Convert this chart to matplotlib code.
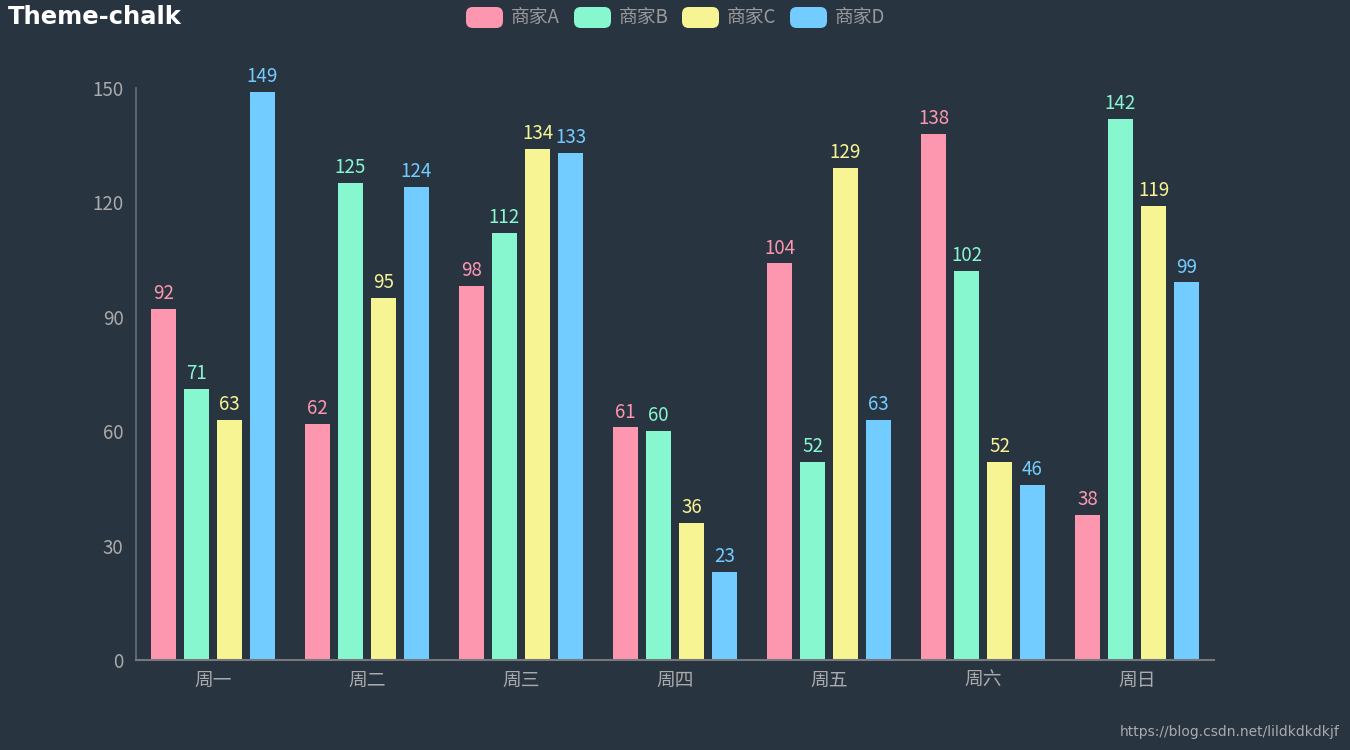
import matplotlib
matplotlib.use("Agg")
import matplotlib.pyplot as plt
from matplotlib.patches import FancyBboxPatch
import numpy as np

plt.rcParams['font.family'] = ['Noto Sans CJK SC', 'DejaVu Sans']

categories = ['周一', '周二', '周三', '周四', '周五', '周六', '周日']
series_names = ['商家A', '商家B', '商家C', '商家D']
vals_a = [92, 62, 98, 61, 104, 138, 38]
vals_b = [71, 125, 112, 60, 52, 102, 142]
vals_c = [63, 95, 134, 36, 129, 52, 119]
vals_d = [149, 124, 133, 23, 63, 46, 99]
series = [vals_a, vals_b, vals_c, vals_d]
colors = ['#fc97af', '#87f7cf', '#f7f494', '#72ccff']
yticks = [0, 30, 60, 90, 120, 150]

bg = '#293441'
fig = plt.figure(figsize=(13.5, 7.5), dpi=100, facecolor=bg)
ax = fig.add_axes([136/1350, 90/750, 1078/1350, 572/750])
ax.set_facecolor(bg)

x = np.arange(len(categories))
bw = 25/154
step = 33/154
for i, (vals, c) in enumerate(zip(series, colors)):
    pos = x + (i - 1.5) * step
    ax.bar(pos, vals, width=bw, color=c, edgecolor='none')
    for p, v in zip(pos, vals):
        ax.annotate(str(v), (p, v), xytext=(0, 3.5), textcoords='offset points',
                    ha='center', va='bottom', color=c, fontsize=13.5)

ax.set_xlim(-0.5, len(categories) - 0.5)
ax.set_ylim(0, 150)
ax.set_yticks(yticks)
ax.set_xticks(x)
ax.set_xticklabels(categories)
ax.tick_params(axis='both', length=0, colors='#aaaaaa', labelsize=13.5)
ax.tick_params(axis='y', pad=9)
ax.tick_params(axis='x', pad=7)
for s in ['top', 'right']:
    ax.spines[s].set_visible(False)
ax.spines['left'].set_color('#6b6f75')
ax.spines['bottom'].set_color('#75787c')
ax.spines['left'].set_linewidth(1.2)
ax.spines['bottom'].set_linewidth(1.5)

fig.text(8/1350, 1 - 17/750, 'Theme-chalk', color='white', fontsize=17.5,
         fontweight='bold', ha='left', va='center', family=['DejaVu Sans'])

# legend
patch_x = [466, 574, 682, 790]
for px, name, c in zip(patch_x, series_names, colors):
    fb = FancyBboxPatch((px/1350, 1 - 28/750), 37/1350, 21/750,
                        boxstyle='round,pad=0,rounding_size=0.005',
                        transform=fig.transFigure, facecolor=c, edgecolor='none',
                        mutation_aspect=1350/750)
    fig.patches.append(fb)
    fig.text((px + 45)/1350, 1 - 17.5/750, name, color='#999999', fontsize=13.5,
             ha='left', va='center')

fig.text(1340/1350, 1 - 732/750, 'https://blog.csdn.net/lildkdkdkjf', color='#aaaaaa',
         fontsize=10, ha='right', va='center', family=['DejaVu Sans'])

fig.savefig('out.png', dpi=100, facecolor=bg)
